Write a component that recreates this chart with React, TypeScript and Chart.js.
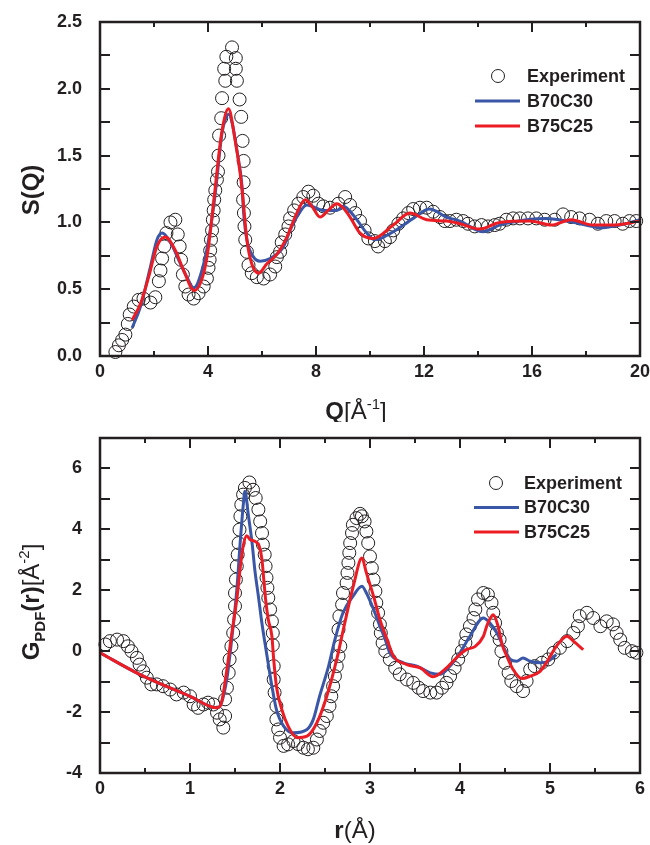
import React, { useEffect, useRef } from "react";
import { Chart, registerables } from "chart.js";

Chart.register(...registerables);

// ---------- Top panel: S(Q) ----------
const expQ = [0.57, 0.70, 0.82, 0.94, 1.03, 1.10, 1.25, 1.43, 1.61, 1.87, 2.05, 2.18, 2.24, 2.30, 2.38, 2.46, 2.61, 2.79, 2.88, 2.95, 3.00, 3.07, 3.16, 3.28, 3.47, 3.65, 3.84, 3.96, 4.02, 4.06, 4.08, 4.11, 4.15, 4.18, 4.21, 4.23, 4.27, 4.33, 4.37, 4.39, 4.41, 4.49, 4.52, 4.64, 4.60, 4.68, 4.89, 5.03, 5.03, 5.07, 5.17, 5.23, 5.28, 5.32, 5.32, 5.30, 5.33, 5.35, 5.38, 5.44, 5.50, 5.62, 5.81, 6.06, 6.30, 6.49, 6.55, 6.67, 6.73, 6.86, 6.98, 7.04, 7.19, 7.35, 7.53, 7.72, 7.90, 8.09, 8.27, 8.52, 8.83, 9.08, 9.26, 9.45, 9.63, 9.80, 9.94, 10.18, 10.30, 10.55, 10.74, 10.86, 11.05, 11.23, 11.42, 11.60, 11.85, 12.10, 12.34, 12.59, 12.77, 12.96, 13.20, 13.45, 13.63, 13.88, 14.13, 14.37, 14.62, 14.80, 15.05, 15.30, 15.55, 15.85, 16.16, 16.47, 16.84, 17.15, 17.45, 17.76, 18.13, 18.44, 18.75, 19.06, 19.36, 19.61, 19.86];
const expS = [0.03, 0.08, 0.12, 0.16, 0.24, 0.31, 0.37, 0.42, 0.43, 0.40, 0.44, 0.56, 0.64, 0.73, 0.82, 0.92, 1.00, 1.02, 0.91, 0.82, 0.72, 0.61, 0.52, 0.46, 0.43, 0.47, 0.52, 0.58, 0.66, 0.72, 0.79, 0.87, 0.94, 1.02, 1.09, 1.17, 1.24, 1.32, 1.38, 1.50, 1.65, 1.78, 1.93, 2.06, 2.15, 2.24, 2.31, 2.23, 2.15, 2.06, 1.92, 1.79, 1.61, 1.46, 1.30, 1.17, 1.07, 0.97, 0.87, 0.78, 0.68, 0.62, 0.59, 0.58, 0.61, 0.67, 0.74, 0.78, 0.85, 0.91, 0.97, 1.03, 1.09, 1.14, 1.19, 1.23, 1.20, 1.14, 1.12, 1.11, 1.14, 1.19, 1.13, 1.07, 1.01, 0.94, 0.88, 0.86, 0.82, 0.86, 0.89, 0.94, 0.99, 1.03, 1.07, 1.10, 1.11, 1.11, 1.08, 1.04, 1.01, 1.01, 1.02, 1.01, 0.99, 0.97, 0.98, 0.97, 0.98, 0.99, 1.02, 1.03, 1.03, 1.03, 1.03, 1.02, 1.02, 1.06, 1.04, 1.03, 1.02, 0.99, 1.01, 1.01, 0.99, 1.01, 1.01];

const b70Q = [1.19, 1.50, 1.87, 2.11, 2.30, 2.61, 2.98, 3.22, 3.47, 3.84, 4.08, 4.27, 4.52, 4.64, 4.76, 4.90, 5.07, 5.26, 5.32, 5.44, 5.69, 5.93, 6.30, 6.80, 7.04, 7.29, 7.66, 8.27, 8.77, 9.01, 9.40, 9.88, 10.18, 10.86, 11.60, 12.20, 12.83, 13.33, 14.19, 14.80, 15.80, 16.53, 17.27, 18.25, 18.50, 19.24, 20.00];
const b70S = [0.21, 0.37, 0.67, 0.87, 0.92, 0.85, 0.69, 0.59, 0.51, 0.69, 0.94, 1.22, 1.67, 1.77, 1.81, 1.74, 1.54, 1.27, 1.07, 0.87, 0.74, 0.71, 0.73, 0.82, 0.94, 1.04, 1.13, 1.09, 1.09, 1.12, 1.05, 0.92, 0.87, 0.93, 1.03, 1.10, 1.04, 1.01, 0.93, 0.98, 1.02, 1.03, 1.01, 0.97, 0.96, 0.98, 1.02];

const b75Q = [1.19, 1.50, 1.80, 2.11, 2.42, 2.79, 3.10, 3.49, 3.84, 4.02, 4.23, 4.50, 4.76, 5.00, 5.19, 5.29, 5.44, 5.62, 5.87, 6.18, 6.55, 6.92, 7.29, 7.60, 7.85, 8.15, 8.45, 8.77, 9.00, 9.26, 9.63, 10.12, 10.86, 11.48, 12.10, 12.83, 13.33, 14.07, 14.80, 15.92, 16.72, 17.45, 18.25, 19.00, 20.00];
const b75S = [0.27, 0.39, 0.59, 0.82, 0.89, 0.79, 0.64, 0.49, 0.62, 0.82, 1.19, 1.66, 1.85, 1.62, 1.37, 1.19, 0.87, 0.69, 0.62, 0.69, 0.76, 0.89, 1.07, 1.17, 1.12, 1.04, 1.09, 1.14, 1.11, 1.04, 0.92, 0.88, 0.98, 1.07, 1.02, 1.01, 0.99, 0.95, 1.00, 1.01, 0.98, 1.02, 0.98, 0.98, 1.01];

// ---------- Bottom panel: G_PDF(r) ----------
const expR = [0.06, 0.11, 0.19, 0.26, 0.31, 0.35, 0.41, 0.44, 0.48, 0.52, 0.57, 0.63, 0.70, 0.78, 0.85, 0.93, 1.00, 1.04, 1.09, 1.15, 1.20, 1.26, 1.30, 1.33, 1.37, 1.39, 1.39, 1.41, 1.43, 1.44, 1.46, 1.48, 1.49, 1.50, 1.50, 1.51, 1.52, 1.53, 1.54, 1.55, 1.56, 1.57, 1.59, 1.61, 1.66, 1.70, 1.73, 1.76, 1.78, 1.80, 1.81, 1.83, 1.84, 1.85, 1.86, 1.87, 1.89, 1.91, 1.92, 1.92, 1.93, 1.93, 1.94, 1.96, 1.96, 1.98, 2.00, 2.04, 2.09, 2.15, 2.20, 2.26, 2.31, 2.37, 2.41, 2.44, 2.48, 2.52, 2.55, 2.57, 2.59, 2.61, 2.63, 2.65, 2.67, 2.65, 2.66, 2.69, 2.70, 2.74, 2.75, 2.76, 2.77, 2.78, 2.80, 2.81, 2.85, 2.89, 2.91, 2.94, 2.96, 2.98, 3.00, 3.02, 3.04, 3.06, 3.07, 3.09, 3.11, 3.12, 3.14, 3.17, 3.22, 3.28, 3.33, 3.41, 3.48, 3.54, 3.59, 3.67, 3.74, 3.80, 3.85, 3.89, 3.94, 3.98, 4.02, 4.06, 4.07, 4.11, 4.15, 4.17, 4.20, 4.26, 4.31, 4.35, 4.37, 4.39, 4.41, 4.44, 4.46, 4.50, 4.54, 4.57, 4.63, 4.70, 4.74, 4.78, 4.83, 4.91, 4.98, 5.04, 5.11, 5.19, 5.26, 5.31, 5.33, 5.41, 5.48, 5.56, 5.63, 5.70, 5.74, 5.78, 5.83, 5.91, 5.96];
const expG = [0.22, 0.33, 0.38, 0.33, 0.16, 0.00, -0.22, -0.44, -0.66, -0.87, -1.09, -1.09, -1.15, -1.26, -1.42, -1.36, -1.48, -1.75, -1.86, -1.75, -1.69, -1.75, -2.02, -2.24, -2.51, -2.13, -1.58, -1.20, -0.71, -0.27, 0.16, 0.60, 1.04, 1.48, 1.91, 2.35, 2.79, 3.17, 3.55, 3.99, 4.43, 4.81, 5.14, 5.36, 5.54, 5.30, 5.03, 4.65, 4.26, 3.88, 3.50, 3.17, 2.79, 2.41, 2.08, 1.75, 1.37, 0.98, 0.60, 0.20, -0.49, -0.93, -1.36, -1.80, -2.24, -2.57, -2.84, -3.11, -3.06, -2.95, -3.05, -3.17, -3.22, -3.17, -2.90, -2.62, -2.35, -2.13, -1.80, -1.48, -1.15, -0.82, -0.49, -0.16, 0.16, 0.71, 1.15, 1.53, 1.91, 2.24, 2.57, 2.90, 3.23, 3.55, 3.88, 4.15, 4.37, 4.51, 4.43, 4.26, 3.93, 3.55, 3.11, 2.73, 2.35, 1.97, 1.59, 1.26, 0.88, 0.60, 0.27, 0.00, -0.27, -0.55, -0.76, -0.93, -1.04, -1.20, -1.31, -1.36, -1.36, -1.20, -1.04, -0.82, -0.55, -0.27, 0.00, 0.27, 0.55, 0.82, 1.09, 1.37, 1.70, 1.91, 1.86, 1.59, 1.26, 0.93, 0.60, 0.38, 0.00, -0.38, -0.71, -0.98, -1.15, -1.31, -0.98, -0.60, -0.49, -0.38, -0.27, -0.05, 0.11, 0.33, 0.60, 0.82, 1.15, 1.26, 1.09, 0.82, 0.98, 0.88, 0.60, 0.38, 0.11, 0.00, -0.05];

const g70R = [0.00, 0.44, 1.00, 1.30, 1.35, 1.41, 1.46, 1.52, 1.56, 1.59, 1.61, 1.65, 1.69, 1.72, 1.76, 1.80, 1.85, 1.91, 1.96, 2.04, 2.15, 2.30, 2.37, 2.44, 2.54, 2.61, 2.70, 2.81, 2.91, 2.96, 3.04, 3.11, 3.17, 3.22, 3.37, 3.52, 3.67, 3.78, 3.89, 4.00, 4.11, 4.26, 4.33, 4.41, 4.48, 4.56, 4.63, 4.70, 4.78, 4.89, 4.98, 5.07];
const g70G = [-0.05, -0.76, -1.48, -1.86, -1.69, -0.90, 0.30, 2.02, 3.66, 4.75, 5.25, 4.43, 3.55, 2.68, 1.80, 0.90, -0.05, -1.15, -1.91, -2.46, -2.68, -2.57, -2.24, -1.48, -0.49, 0.38, 1.26, 1.80, 2.13, 1.91, 1.37, 0.82, 0.38, -0.05, -0.38, -0.49, -0.71, -0.76, -0.49, -0.05, 0.49, 1.09, 0.93, 0.60, 0.16, -0.27, -0.33, -0.22, -0.33, -0.38, -0.33, -0.11];

const g75R = [0.00, 0.44, 1.00, 1.30, 1.35, 1.41, 1.46, 1.52, 1.56, 1.59, 1.63, 1.67, 1.72, 1.77, 1.80, 1.82, 1.84, 1.87, 1.91, 1.93, 1.96, 2.02, 2.09, 2.19, 2.30, 2.41, 2.52, 2.63, 2.72, 2.82, 2.91, 2.96, 3.04, 3.11, 3.19, 3.26, 3.41, 3.56, 3.70, 3.85, 3.98, 4.07, 4.17, 4.26, 4.30, 4.37, 4.42, 4.47, 4.52, 4.59, 4.69, 4.78, 4.89, 4.96, 5.07, 5.19, 5.26, 5.37];
const g75G = [-0.05, -0.76, -1.48, -1.86, -1.69, -0.60, 0.49, 1.70, 2.79, 3.44, 3.79, 3.66, 3.61, 3.44, 3.00, 2.35, 1.70, 1.04, 0.49, -0.27, -1.15, -1.91, -2.46, -2.84, -2.79, -2.35, -1.48, -0.27, 0.93, 2.20, 3.06, 2.57, 1.80, 1.04, 0.38, -0.16, -0.44, -0.55, -0.84, -0.55, -0.16, 0.05, 0.16, 0.49, 0.85, 1.20, 0.85, 0.20, -0.16, -0.60, -0.90, -0.82, -0.66, -0.38, 0.16, 0.49, 0.33, 0.05];

const seriesLabels = ["Experiment", "B70C30", "B75C25"];
const topXTicks = [0, 4, 8, 12, 16, 20];
const topYTicks = [0, 0.5, 1, 1.5, 2, 2.5];
const botXTicks = [0, 1, 2, 3, 4, 5, 6];
const botYTicks = [-4, -2, 0, 2, 4, 6];

const INK = "#231f20";
const BLUE = "#3a57a7";
const RED = "#ec1c24";
const FAMILY = '"Liberation Sans", Arial, sans-serif';

const zip = (xs: number[], ys: number[]) => xs.map((x, i) => ({ x, y: ys[i] }));

type Run = { text: string; font: string; dy?: number };

function drawRuns(ctx: CanvasRenderingContext2D, runs: Run[], cx: number, cy: number, rotate: boolean, baseShift: number) {
  ctx.save();
  ctx.translate(cx, cy);
  if (rotate) ctx.rotate(-Math.PI / 2);
  ctx.fillStyle = INK;
  ctx.textBaseline = "alphabetic";
  ctx.textAlign = "left";
  let total = 0;
  const widths = runs.map((r) => {
    ctx.font = r.font;
    const w = ctx.measureText(r.text).width;
    total += w;
    return w;
  });
  let x = -total / 2;
  runs.forEach((r, i) => {
    ctx.font = r.font;
    ctx.fillText(r.text, x, baseShift + (r.dy || 0));
    x += widths[i];
  });
  ctx.restore();
}

type FrameCfg = {
  xMinor: number;
  xMajor: number;
  yMinor: number;
  legend: { cx: number; y0: number; dy: number; lx0: number; lx1: number; tx: number };
  xTitle: { runs: Run[]; cx: number; cy: number };
  yTitle: { runs: Run[]; cx: number; cy: number };
};

function makeFramePlugin(cfg: FrameCfg) {
  return {
    id: "frameTicks",
    afterDraw(chart: any) {
      const ctx: CanvasRenderingContext2D = chart.ctx;
      const { left, right, top, bottom } = chart.chartArea;
      const xs = chart.scales.x;
      const ys = chart.scales.y;
      ctx.save();
      ctx.strokeStyle = INK;
      ctx.lineWidth = 2.5;
      ctx.strokeRect(left, top, right - left, bottom - top);
      ctx.lineWidth = 2;
      const nx = Math.round((xs.max - xs.min) / cfg.xMinor);
      for (let i = 0; i <= nx; i++) {
        const v = xs.min + i * cfg.xMinor;
        const px = Math.round(xs.getPixelForValue(v));
        const major = Math.abs(v / cfg.xMajor - Math.round(v / cfg.xMajor)) < 1e-6;
        const len = major ? 10 : 5;
        ctx.beginPath();
        ctx.moveTo(px, bottom);
        ctx.lineTo(px, bottom - len);
        ctx.moveTo(px, top);
        ctx.lineTo(px, top + len);
        ctx.stroke();
      }
      const ny = Math.round((ys.max - ys.min) / cfg.yMinor);
      for (let i = 0; i <= ny; i++) {
        const v = ys.min + i * cfg.yMinor;
        const py = Math.round(ys.getPixelForValue(v));
        const len = 10;
        ctx.beginPath();
        ctx.moveTo(left, py);
        ctx.lineTo(left + len, py);
        ctx.moveTo(right, py);
        ctx.lineTo(right - len, py);
        ctx.stroke();
      }
      const L = cfg.legend;
      const ds = chart.data.datasets;
      ctx.font = `bold 18px ${FAMILY}`;
      ctx.textBaseline = "middle";
      ctx.textAlign = "left";
      ctx.fillStyle = INK;
      ds.forEach((d: any, i: number) => {
        const y = L.y0 + i * L.dy;
        if (i === 0) {
          ctx.beginPath();
          ctx.lineWidth = 1;
          ctx.strokeStyle = INK;
          ctx.arc(L.cx, y, 6.5, 0, Math.PI * 2);
          ctx.stroke();
        } else {
          ctx.beginPath();
          ctx.lineWidth = 3;
          ctx.strokeStyle = d.borderColor;
          ctx.moveTo(L.lx0, y);
          ctx.lineTo(L.lx1, y);
          ctx.stroke();
        }
        ctx.fillText(d.label, L.tx, y + 1);
      });
      ctx.restore();
      drawRuns(ctx, cfg.xTitle.runs, cfg.xTitle.cx, cfg.xTitle.cy, false, 9);
      drawRuns(ctx, cfg.yTitle.runs, cfg.yTitle.cx, cfg.yTitle.cy, true, 9);
    },
  };
}

function buildConfig(opts: {
  exp: { x: number; y: number }[];
  a: { x: number; y: number }[];
  b: { x: number; y: number }[];
  xMin: number; xMax: number; xStep: number; xTickList: number[];
  yMin: number; yMax: number; yStep: number; yTickList: number[];
  yFmt: (v: number) => string;
  padTop: number; xAxisH: number;
  frame: FrameCfg;
}) {
  const tickFont = { family: FAMILY, size: 18, weight: "bold" as const };
  return {
    type: "scatter" as const,
    data: {
      datasets: [
        {
          label: seriesLabels[0],
          data: opts.exp,
          showLine: false,
          pointRadius: 6.5,
          pointHoverRadius: 6.5,
          pointBorderWidth: 1,
          pointBorderColor: INK,
          pointBackgroundColor: "rgba(0,0,0,0)",
          order: 3,
          clip: false,
        },
        {
          label: seriesLabels[1],
          data: opts.a,
          showLine: true,
          pointRadius: 0,
          borderColor: BLUE,
          backgroundColor: BLUE,
          borderWidth: 3,
          cubicInterpolationMode: "monotone",
          order: 2,
        },
        {
          label: seriesLabels[2],
          data: opts.b,
          showLine: true,
          pointRadius: 0,
          borderColor: RED,
          backgroundColor: RED,
          borderWidth: 3,
          cubicInterpolationMode: "monotone",
          order: 1,
        },
      ],
    },
    options: {
      responsive: false,
      maintainAspectRatio: false,
      animation: false,
      devicePixelRatio: 1,
      events: [],
      layout: { padding: { top: opts.padTop, right: 10, left: 0, bottom: 0 } },
      plugins: { legend: { display: false }, tooltip: { enabled: false }, title: { display: false } },
      scales: {
        x: {
          type: "linear",
          min: opts.xMin,
          max: opts.xMax,
          grid: { display: false, drawTicks: false },
          border: { display: false },
          ticks: {
            stepSize: opts.xStep,
            includeBounds: false,
            padding: 5,
            color: INK,
            font: tickFont,
            maxRotation: 0,
            autoSkip: false,
            callback: (v: number) => (opts.xTickList.some((t) => Math.abs(t - v) < 1e-6) ? String(v) : ""),
          },
          afterFit: (s: any) => {
            s.height = opts.xAxisH;
            s.paddingLeft = 0;
            s.paddingRight = 0;
          },
        },
        y: {
          type: "linear",
          min: opts.yMin,
          max: opts.yMax,
          grid: { display: false, drawTicks: false },
          border: { display: false },
          ticks: {
            stepSize: opts.yStep,
            includeBounds: false,
            padding: 18,
            color: INK,
            font: tickFont,
            autoSkip: false,
            callback: (v: number) => (opts.yTickList.some((t) => Math.abs(t - v) < 1e-6) ? opts.yFmt(v) : ""),
          },
          afterFit: (s: any) => {
            s.width = 100;
            s.paddingTop = 0;
            s.paddingBottom = 0;
          },
        },
      },
    },
    plugins: [makeFramePlugin(opts.frame)],
  };
}

export default function App() {
  const topRef = useRef<HTMLCanvasElement>(null);
  const botRef = useRef<HTMLCanvasElement>(null);

  useEffect(() => {
    const bold24 = `bold 24px ${FAMILY}`;
    const reg24 = `24px ${FAMILY}`;
    const sup = `15px ${FAMILY}`;
    const topCfg = buildConfig({
      exp: zip(expQ, expS),
      a: zip(b70Q, b70S),
      b: zip(b75Q, b75S),
      xMin: 0, xMax: 20, xStep: 4, xTickList: topXTicks,
      yMin: 0, yMax: 2.5, yStep: 0.5, yTickList: topYTicks,
      yFmt: (v) => v.toFixed(1),
      padTop: 22, xAxisH: 66,
      frame: {
        xMinor: 2, xMajor: 4, yMinor: 0.25,
        legend: { cx: 498, y0: 76, dy: 25, lx0: 475, lx1: 520, tx: 527 },
        xTitle: { runs: [{ text: "Q", font: bold24 }, { text: "[Å", font: reg24 }, { text: "-1", font: sup, dy: -10 }, { text: "]", font: reg24 }], cx: 356, cy: 410 },
        yTitle: { runs: [{ text: "S(Q)", font: bold24 }], cx: 30, cy: 190 },
      },
    });
    const botCfg = buildConfig({
      exp: zip(expR, expG),
      a: zip(g70R, g70G),
      b: zip(g75R, g75G),
      xMin: 0, xMax: 6, xStep: 1, xTickList: botXTicks,
      yMin: -4, yMax: 7, yStep: 2, yTickList: botYTicks,
      yFmt: (v) => String(v),
      padTop: 16, xAxisH: 72,
      frame: {
        xMinor: 0.5, xMajor: 1, yMinor: 1,
        legend: { cx: 496, y0: 483 - 422, dy: 24.5, lx0: 474, lx1: 519, tx: 524 },
        xTitle: { runs: [{ text: "r", font: bold24 }, { text: "(Å)", font: reg24 }], cx: 355, cy: 829 - 422 },
        yTitle: {
          runs: [
            { text: "G", font: bold24 },
            { text: "PDF", font: `bold 15px ${FAMILY}`, dy: 6 },
            { text: "(r)", font: bold24 },
            { text: "[Å", font: reg24 },
            { text: "-2", font: sup, dy: -10 },
            { text: "]", font: reg24 },
          ],
          cx: 30, cy: 602 - 422,
        },
      },
    });
    const c1 = new Chart(topRef.current as HTMLCanvasElement, topCfg as any);
    const c2 = new Chart(botRef.current as HTMLCanvasElement, botCfg as any);
    return () => {
      c1.destroy();
      c2.destroy();
    };
  }, []);

  return (
    <div style={{ position: "absolute", left: 0, top: 0, width: 650, height: 845, background: "#fff" }}>
      <canvas ref={topRef} width={650} height={422} style={{ position: "absolute", left: 0, top: 0, display: "block" }} />
      <canvas ref={botRef} width={650} height={423} style={{ position: "absolute", left: 0, top: 422, display: "block" }} />
    </div>
  );
}
